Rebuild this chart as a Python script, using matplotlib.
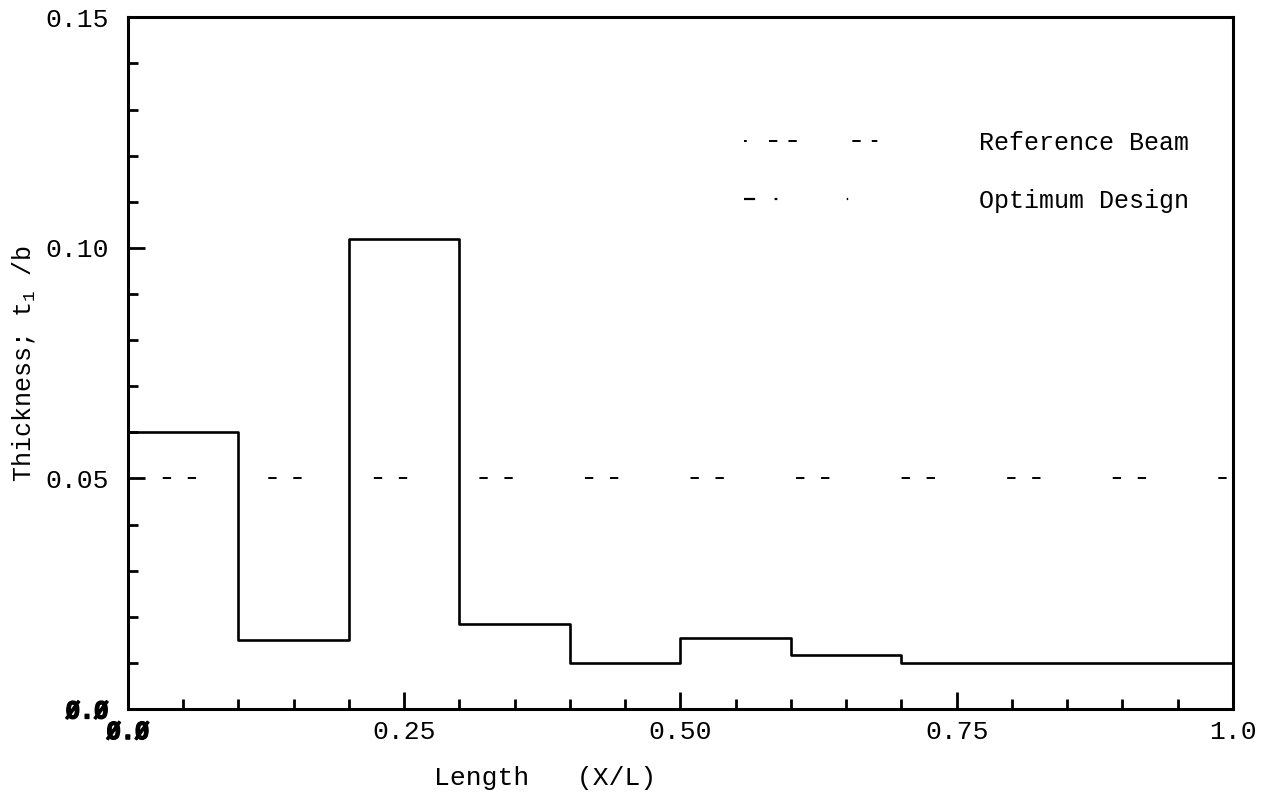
import numpy as np
import matplotlib
matplotlib.use("Agg")
import matplotlib.pyplot as plt
import matplotlib.patheffects as pe
from matplotlib.lines import Line2D

# data
x_edges = [0.0, 0.1, 0.2, 0.3, 0.4, 0.5, 0.6, 0.7, 1.0]
t_opt = [0.060, 0.015, 0.102, 0.0185, 0.010, 0.0155, 0.0118, 0.010]
ref_x = [0.0, 1.0]
ref_t = [0.05, 0.05]

xticks = [0.0, 0.25, 0.50, 0.75, 1.0]
xticklabels = ["Ø.Ø", "0.25", "0.50", "0.75", "1.0"]
yticks = [0.0, 0.05, 0.10, 0.15]
yticklabels = ["Ø.Ø", "0.05", "0.10", "0.15"]

plt.rcParams['font.family'] = ['Liberation Mono', 'DejaVu Sans Mono']
plt.rcParams['mathtext.fontset'] = 'custom'
plt.rcParams['mathtext.rm'] = 'Liberation Mono'
plt.rcParams['lines.scale_dashes'] = False

fig = plt.figure(figsize=(12.79, 8.09), dpi=100)
ax = fig.add_axes([0.100, 0.1236, 0.864, 0.855])

# optimum design, piecewise constant
ax.step(x_edges, t_opt + [t_opt[-1]], where='post', color='black', lw=1.9)

# reference beam, sparse dashes
ax.plot(ref_x, ref_t, color='black', lw=1.4, linestyle=(51, (6, 12, 6, 52)))

ax.set_xlim(0, 1.0)
ax.set_ylim(0, 0.15)

for s in ax.spines.values():
    s.set_linewidth(2.2)

ax.set_xticks(xticks)
ax.set_xticklabels(xticklabels)
ax.set_xticks(np.arange(0.05, 1.0, 0.05), minor=True)
ax.set_yticks(yticks)
ax.set_yticklabels(yticklabels)
ax.set_yticks(np.arange(0.01, 0.15, 0.01), minor=True)

ax.tick_params(axis='both', which='major', direction='in', length=12, width=2,
               labelsize=19)
ax.tick_params(axis='both', which='minor', direction='in', length=7, width=2)
ax.tick_params(axis='x', which='major', pad=8)
ax.tick_params(axis='y', which='major', pad=14)

# the zero labels are printed heavy in the original
for lab in [ax.get_xticklabels()[0], ax.get_yticklabels()[0]]:
    lab.set_family('DejaVu Sans Mono')
    lab.set_fontsize(17)
    lab.set_fontweight('bold')
    lab.set_path_effects([pe.withStroke(linewidth=0.9, foreground='black')])

ax.set_ylabel(r"Thickness; t$_\mathrm{1}$ /b", fontsize=18, labelpad=6)
fig.text(0.426, 0.038, "Length   (X/L)", fontsize=19, ha='center', va='center')

h_ref = Line2D([], [], color='black', lw=1.4, dashes=[2, 16, 6, 8, 6, 40, 6, 8, 4, 16, 4])
h_opt = Line2D([], [], color='black', lw=1.6, dashes=[8, 14, 2, 50, 1, 40, 1, 20])
ax.legend([h_ref, h_opt], ["Reference Beam", "Optimum Design"], loc='upper right',
          bbox_to_anchor=(0.981, 0.868), frameon=False, fontsize=18,
          handlelength=6.2, handletextpad=3.2, labelspacing=1.35)

fig.savefig("out.png", dpi=100)
